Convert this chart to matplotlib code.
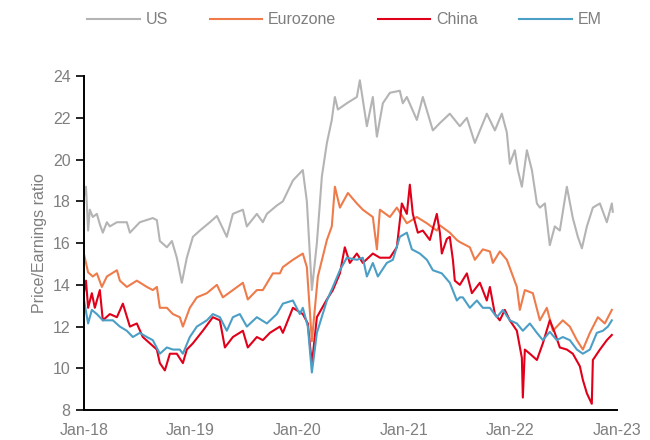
import matplotlib
matplotlib.use("Agg")
import matplotlib.pyplot as plt

# P/E ratios, time in years since Jan 2018
us_t = [0.0, 0.02, 0.04, 0.056, 0.084, 0.122, 0.15, 0.178, 0.216, 0.244, 0.31, 0.403, 0.432, 0.525,
        0.647, 0.685, 0.713, 0.779, 0.826, 0.872, 0.919, 0.966, 1.023, 1.088, 1.182, 1.248, 1.341,
        1.398, 1.492, 1.529, 1.623, 1.679, 1.717, 1.81, 1.867, 1.961, 2.026, 2.054, 2.092, 2.139,
        2.186, 2.233, 2.28, 2.326, 2.355, 2.383, 2.467, 2.561, 2.589, 2.655, 2.711, 2.749, 2.805,
        2.871, 2.964, 2.992, 3.03, 3.124, 3.18, 3.274, 3.34, 3.433, 3.527, 3.593, 3.668, 3.78,
        3.856, 3.921, 3.968, 3.996, 4.043, 4.071, 4.109, 4.156, 4.203, 4.25, 4.278, 4.325, 4.371,
        4.418, 4.465, 4.531, 4.587, 4.634, 4.672, 4.719, 4.775, 4.841, 4.906, 4.953, 4.962]
us_v = [18.2, 18.7, 16.6, 17.6, 17.25, 17.4, 16.9, 16.5, 17.0, 16.8, 17.0, 17.0, 16.5, 17.0,
        17.2, 17.1, 16.1, 15.8, 16.1, 15.3, 14.1, 15.3, 16.3, 16.6, 17.0, 17.3, 16.3,
        17.4, 17.6, 16.8, 17.4, 17.0, 17.4, 17.8, 18.0, 19.0, 19.35, 19.5, 18.0, 13.75,
        16.0, 19.2, 20.8, 21.9, 23.0, 22.4, 22.7, 23.0, 23.8, 21.6, 23.0, 21.1, 22.7,
        23.2, 23.3, 22.7, 23.0, 21.9, 23.0, 21.4, 21.75, 22.2, 21.6, 22.0, 20.8, 22.2,
        21.4, 22.2, 21.3, 19.8, 20.45, 19.5, 18.7, 20.45, 19.5, 17.9, 17.7, 17.9, 15.9,
        16.8, 16.6, 18.7, 17.2, 16.3, 15.75, 16.8, 17.7, 17.9, 17.0, 17.9, 17.5]

ez_t = [0.0, 0.04, 0.084, 0.122, 0.169, 0.216, 0.31, 0.338, 0.403, 0.497, 0.591, 0.647, 0.685,
        0.713, 0.779, 0.835, 0.9, 0.929, 0.994, 1.06, 1.154, 1.248, 1.304, 1.398, 1.492, 1.538,
        1.623, 1.679, 1.773, 1.839, 1.867, 1.961, 2.054, 2.092, 2.139, 2.195, 2.28, 2.326, 2.355,
        2.402, 2.477, 2.561, 2.617, 2.711, 2.749, 2.777, 2.871, 2.936, 3.03, 3.124, 3.218, 3.311,
        3.34, 3.433, 3.499, 3.527, 3.621, 3.668, 3.743, 3.809, 3.837, 3.902, 3.968, 4.015, 4.062,
        4.09, 4.137, 4.212, 4.278, 4.343, 4.4, 4.493, 4.559, 4.625, 4.681, 4.747, 4.822, 4.887,
        4.953]
ez_v = [15.5, 14.6, 14.4, 14.55, 13.9, 14.4, 14.7, 14.2, 13.9, 14.2, 13.9, 13.75, 13.9,
        12.9, 12.9, 12.6, 12.45, 12.0, 12.9, 13.4, 13.6, 14.0, 13.4, 13.75, 14.1, 13.3,
        13.75, 13.75, 14.55, 14.55, 14.85, 15.2, 15.5, 14.85, 11.3, 14.4, 16.15, 16.8, 18.7,
        17.7, 18.4, 17.9, 17.6, 17.25, 15.7, 17.6, 17.25, 17.7, 16.95, 17.25, 16.95, 16.6,
        16.85, 16.5, 16.15, 16.05, 15.8, 15.2, 15.7, 15.6, 15.05, 15.6, 15.2, 14.55, 13.9,
        12.8, 13.75, 13.6, 12.3, 12.9, 11.8, 12.3, 12.0, 11.35, 10.9, 11.7, 12.45, 12.15,
        12.8]

cn_t = [0.0, 0.02, 0.04, 0.075, 0.103, 0.15, 0.178, 0.244, 0.31, 0.366, 0.432, 0.497, 0.553,
        0.619, 0.685, 0.713, 0.76, 0.807, 0.872, 0.929, 0.966, 1.023, 1.116, 1.21, 1.276, 1.323,
        1.398, 1.492, 1.538, 1.623, 1.679, 1.745, 1.839, 1.867, 1.961, 2.054, 2.101, 2.139, 2.186,
        2.28, 2.336, 2.402, 2.448, 2.495, 2.561, 2.617, 2.711, 2.777, 2.871, 2.936, 2.983, 3.03,
        3.058, 3.086, 3.133, 3.18, 3.246, 3.311, 3.34, 3.358, 3.405, 3.433, 3.462, 3.48,
        3.527, 3.593, 3.64, 3.715, 3.78, 3.809, 3.856, 3.902, 3.949, 3.996, 4.062, 4.109, 4.118,
        4.137, 4.184, 4.25, 4.306, 4.371, 4.418, 4.465, 4.531, 4.587, 4.653, 4.681, 4.719, 4.765,
        4.775, 4.841, 4.906, 4.953]
cn_v = [13.6, 14.2, 12.9, 13.6, 12.9, 13.75, 12.3, 12.6, 12.45, 13.1, 12.0, 12.15, 11.5,
        11.2, 10.9, 10.25, 9.9, 10.7, 10.7, 10.25, 10.9, 11.2, 11.8, 12.45, 12.3, 11.0,
        11.5, 11.8, 11.0, 11.5, 11.35, 11.7, 12.0, 11.7, 12.9, 12.6, 12.15, 10.2, 12.45,
        13.3, 13.75, 14.55, 15.8, 15.05, 15.5, 15.05, 15.5, 15.3, 15.3, 15.8, 17.9, 17.4,
        18.8, 17.4, 16.5, 16.6, 16.15, 17.4, 16.5, 15.5, 16.2, 16.3, 15.2, 14.2,
        14.0, 14.55, 13.6, 14.1, 13.25, 13.9, 12.6, 12.3, 12.8, 12.3, 11.8, 10.5, 8.6,
        10.9, 10.7, 10.4, 11.2, 12.3, 11.7, 11.0, 10.9, 10.7, 10.1, 9.45, 8.8, 8.3,
        10.4, 10.9, 11.35, 11.6]

em_t = [0.0, 0.04, 0.075, 0.122, 0.178, 0.272, 0.338, 0.403, 0.46, 0.525, 0.591, 0.647, 0.713,
        0.779, 0.835, 0.9, 0.929, 0.994, 1.06, 1.154, 1.21, 1.276, 1.341, 1.398, 1.463, 1.529,
        1.623, 1.717, 1.81, 1.867, 1.961, 2.026, 2.054, 2.101, 2.139, 2.186, 2.28, 2.336, 2.402,
        2.467, 2.561, 2.617, 2.655, 2.711, 2.758, 2.842, 2.899, 2.964, 3.03, 3.077, 3.152, 3.218,
        3.274, 3.358, 3.433, 3.499, 3.527, 3.555, 3.621, 3.687, 3.743, 3.809, 3.874, 3.931, 3.996,
        4.062, 4.118, 4.184, 4.25, 4.306, 4.371, 4.437, 4.493, 4.559, 4.625, 4.681, 4.747, 4.812,
        4.869, 4.916, 4.953]
em_v = [13.3, 12.15, 12.8, 12.6, 12.3, 12.3, 12.0, 11.8, 11.5, 11.7, 11.5, 11.35, 10.7,
        11.0, 10.9, 10.9, 10.7, 11.5, 12.0, 12.3, 12.6, 12.45, 11.8, 12.45, 12.6, 12.0,
        12.45, 12.15, 12.6, 13.1, 13.25, 12.6, 12.9, 12.0, 9.8, 11.7, 13.25, 13.9, 14.7,
        15.3, 15.2, 15.3, 14.4, 15.05, 14.4, 15.05, 15.2, 16.3, 16.5, 15.7, 15.5, 15.2,
        14.7, 14.55, 14.1, 13.25, 13.4, 13.4, 12.9, 13.25, 12.9, 12.9, 12.45, 12.8, 12.3,
        12.15, 11.8, 12.15, 11.7, 11.35, 11.75, 11.35, 11.5, 11.35, 10.9, 10.7, 10.9, 11.7,
        11.8, 12.0, 12.3]

years = [0, 1, 2, 3, 4, 5]
year_labels = ["Jan-18", "Jan-19", "Jan-20", "Jan-21", "Jan-22", "Jan-23"]
y_ticks = [8, 10, 12, 14, 16, 18, 20, 22, 24]

grey_txt = "#7f7f7f"
plt.rcParams["font.family"] = ["Liberation Sans", "DejaVu Sans"]

fig = plt.figure(figsize=(6.5, 4.4), dpi=100)
ax = fig.add_axes([0.129, 0.068, 0.82, 0.759])

ax.plot(us_t, us_v, color="#b4b4b4", lw=1.5, label="US")
ax.plot(ez_t, ez_v, color="#ef7b4b", lw=1.5, label="Eurozone")
ax.plot(cn_t, cn_v, color="#e0001a", lw=1.5, label="China")
ax.plot(em_t, em_v, color="#4b9fc6", lw=1.5, label="EM")

ax.set_xlim(0, 5)
ax.set_ylim(8, 24)
ax.set_xticks(years)
ax.set_xticklabels(year_labels)
ax.set_yticks(y_ticks)
ax.tick_params(axis="x", length=0, pad=9, labelsize=11.5, labelcolor=grey_txt)
ax.tick_params(axis="y", length=6, width=1.2, direction="out", labelsize=11.5, labelcolor=grey_txt)
for s in ["top", "right"]:
    ax.spines[s].set_visible(False)
for s in ["left", "bottom"]:
    ax.spines[s].set_linewidth(1.4)
ax.set_ylabel("Price/Earnings ratio", color=grey_txt, fontsize=11.5, labelpad=4)

fig.legend(loc="upper center", bbox_to_anchor=(0.53, 1.005), ncol=4, frameon=False,
           fontsize=11.5, handlelength=3.3, handletextpad=0.35, columnspacing=2.6,
           labelcolor=grey_txt)

fig.savefig("out.png", dpi=100)
